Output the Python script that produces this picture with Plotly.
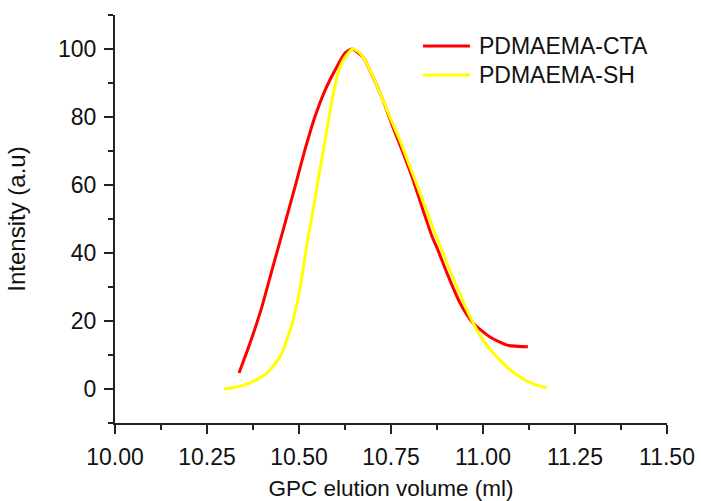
import plotly.graph_objects as go

cta_x = [10.337, 10.367, 10.399, 10.429, 10.457, 10.489, 10.516, 10.543, 10.571, 10.598,
         10.625, 10.644, 10.674, 10.701, 10.728, 10.755, 10.783, 10.810, 10.837, 10.861,
         10.877, 10.902, 10.9375, 10.973, 11.019, 11.065, 11.122]
cta_y = [4.7, 13.5, 24.1, 35.9, 46.8, 59.4, 70.3, 80.0, 87.9, 93.8,
         98.8, 100.0, 97.6, 91.8, 85.0, 77.1, 69.4, 61.5, 52.6, 45.0,
         41.0, 34.1, 25.3, 19.4, 15.3, 12.9, 12.4]

sh_x = [10.296, 10.33, 10.367, 10.413, 10.448, 10.476, 10.495, 10.508, 10.522, 10.535,
        10.552, 10.571, 10.590, 10.606, 10.625, 10.646, 10.666, 10.693, 10.720, 10.747,
        10.774, 10.802, 10.829, 10.856, 10.891, 10.929, 10.965, 11.0, 11.046, 11.092,
        11.136, 11.174]
sh_y = [0.0, 0.6, 1.8, 4.7, 9.4, 17.4, 25.3, 32.9, 42.9, 50.6,
        61.5, 73.2, 85.0, 92.9, 97.6, 100.0, 98.8, 93.8, 87.1, 80.0,
        73.2, 65.3, 57.6, 49.7, 40.0, 30.0, 21.2, 14.4, 8.5, 4.1,
        1.5, 0.3]

series_names = ["PDMAEMA-CTA", "PDMAEMA-SH"]
series_colors = ["#FF0000", "#FFFF00"]

x_ticks = [10.00, 10.25, 10.50, 10.75, 11.00, 11.25, 11.50]
x_ticklabels = ["10.00", "10.25", "10.50", "10.75", "11.00", "11.25", "11.50"]
y_ticks = [0, 20, 40, 60, 80, 100]

FONT = "Arial, Liberation Sans, sans-serif"
INK = "#111111"

fig = go.Figure()
for xs, ys, name, col in [(cta_x, cta_y, series_names[0], series_colors[0]),
                          (sh_x, sh_y, series_names[1], series_colors[1])]:
    fig.add_trace(go.Scatter(x=xs, y=ys, mode="lines", name=name, showlegend=False,
                             line=dict(color=col, width=3, shape="spline", smoothing=0.6)))

axis_common = dict(showline=True, linecolor="#222", linewidth=2, ticks="outside",
                   ticklen=9, tickwidth=2, tickcolor="#222", showgrid=False, zeroline=False,
                   mirror=False, automargin=False, ticklabelstandoff=3,
                   tickfont=dict(size=23, color=INK, family=FONT))

fig.update_xaxes(range=[10.0, 11.5], tickvals=x_ticks, ticktext=x_ticklabels,
                 title=dict(text="GPC elution volume (ml)", font=dict(size=22.5, color=INK, family=FONT), standoff=15),
                 minor=dict(ticks="outside", ticklen=5, tickwidth=2, tickcolor="#222", dtick=0.125, tick0=10.0),
                 **axis_common)
fig.update_yaxes(range=[-10, 110], tickvals=y_ticks,
                 title=dict(text="Intensity (a.u)", font=dict(size=24, color=INK, family=FONT), standoff=26),
                 minor=dict(ticks="outside", ticklen=5, tickwidth=2, tickcolor="#222", dtick=10, tick0=0),
                 **axis_common)

# legend drawn as line samples + text
leg_y = [0.924, 0.853]
for i in range(2):
    fig.add_shape(type="line", xref="paper", yref="paper", x0=0.558, x1=0.643,
                  y0=leg_y[i], y1=leg_y[i], line=dict(color=series_colors[i], width=3))
    fig.add_annotation(xref="paper", yref="paper", x=0.655, y=leg_y[i], text=series_names[i],
                       showarrow=False, xanchor="left", yanchor="middle",
                       font=dict(size=23, color=INK, family=FONT))

fig.update_layout(
    width=701, height=501,
    margin=dict(l=115, r=34, t=15, b=78),
    paper_bgcolor="white", plot_bgcolor="white",
    font=dict(family=FONT, size=22, color=INK),
    showlegend=False,
)

fig.write_html("out.html", config={"displayModeBar": False},
               post_script="document.body.style.margin='0';")
